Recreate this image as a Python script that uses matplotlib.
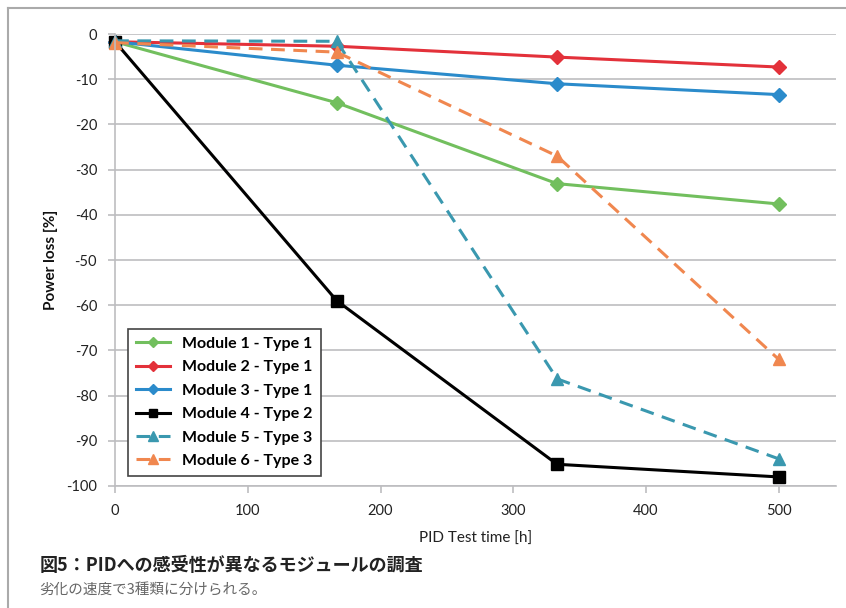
import numpy as np
import matplotlib.pyplot as plt
from matplotlib.lines import Line2D

plt.rcParams['font.family'] = ['Lato', 'Noto Sans CJK JP', 'DejaVu Sans']
plt.rcParams['axes.unicode_minus'] = False

# Data
hours = [0, 167, 333, 500]
module1 = [-1.7, -15.2, -33.1, -37.6]
module2 = [-1.7, -2.7, -5.1, -7.3]
module3 = [-1.7, -6.9, -11.0, -13.4]
module4 = [-1.7, -59.0, -95.2, -98.0]
module5 = [-1.5, -1.6, -76.3, -94.0]
module6 = [-1.9, -4.0, -27.0, -72.0]

labels = ['Module 1 - Type 1', 'Module 2 - Type 1', 'Module 3 - Type 1',
          'Module 4 - Type 2', 'Module 5 - Type 3', 'Module 6 - Type 3']
colors = ['#72BF5E', '#E3313A', '#2B8BCB', '#000000', '#3A98AF', '#F0874F']
markers = ['D', 'D', 'D', 's', '^', '^']
styles = ['-', '-', '-', '-', '--', '--']
series = [module1, module2, module3, module4, module5, module6]

fig = plt.figure(figsize=(8.46, 6.08), dpi=100)
ax = fig.add_axes([0.136, 0.2007, 0.852, 0.7433])

for vals, lab, c, m, ls in zip(series, labels, colors, markers, styles):
    ms = 7 if m == 'D' else (8 if m == 's' else 9)
    line, = ax.plot(hours, vals, color=c, marker=m, markersize=ms, linestyle=ls,
                    linewidth=2.2, label=lab, markeredgecolor=c, clip_on=False)
    if ls == '--':
        line.set_dashes((4.5, 2.8))

ax.set_xlim(0, 543)
ax.set_ylim(-100, 0)
ax.set_xticks(np.arange(0, 501, 100))
ax.set_yticks(np.arange(-100, 1, 10))
ax.yaxis.grid(True, color='#BDBDC0', linewidth=1.2)
ax.set_axisbelow(True)

for s in ['top', 'right']:
    ax.spines[s].set_visible(False)
ax.spines['left'].set_color('#BDBDC0')
ax.spines['bottom'].set_color('#BDBDC0')
ax.spines['left'].set_linewidth(1.2)
ax.spines['bottom'].set_linewidth(1.2)
ax.tick_params(axis='both', colors='#BDBDC0', length=5, width=1.2,
               labelcolor='#222222', labelsize=10.5)
ax.tick_params(axis='y', pad=8)
ax.tick_params(axis='x', pad=8)

ax.set_xlabel('PID Test time [h]', fontsize=11, labelpad=10, color='#222222')
ax.set_ylabel('Power loss [%]', fontsize=11, fontweight='bold', labelpad=6,
              color='#111111')

leg = ax.legend(loc='lower left', bbox_to_anchor=(0.018, 0.022),
                prop={'weight': 'bold', 'size': 11.5}, fancybox=False,
                framealpha=1, edgecolor='#444444', handlelength=2.1,
                markerscale=0.75, borderpad=0.5, labelspacing=0.58,
                borderaxespad=0)
leg.get_frame().set_linewidth(1.2)

# frame lines around the figure panel
fig.add_artist(Line2D([0.01, 1.0], [0.987, 0.987], color='#AAAAAA', linewidth=1.5))
fig.add_artist(Line2D([0.01, 0.01], [0.0, 0.987], color='#AAAAAA', linewidth=1.5))

fig.text(0.047, 0.07, '図5：PIDへの感受性が異なるモジュールの調査', fontsize=13,
         fontweight='bold', color='#222222', va='center',
         family=['Noto Sans CJK JP', 'DejaVu Sans'])
fig.text(0.047, 0.028, '劣化の速度で3種類に分けられる。', fontsize=10.5,
         color='#666666', va='center', family=['Noto Sans CJK JP', 'DejaVu Sans'])

fig.savefig('out.png', dpi=100)
